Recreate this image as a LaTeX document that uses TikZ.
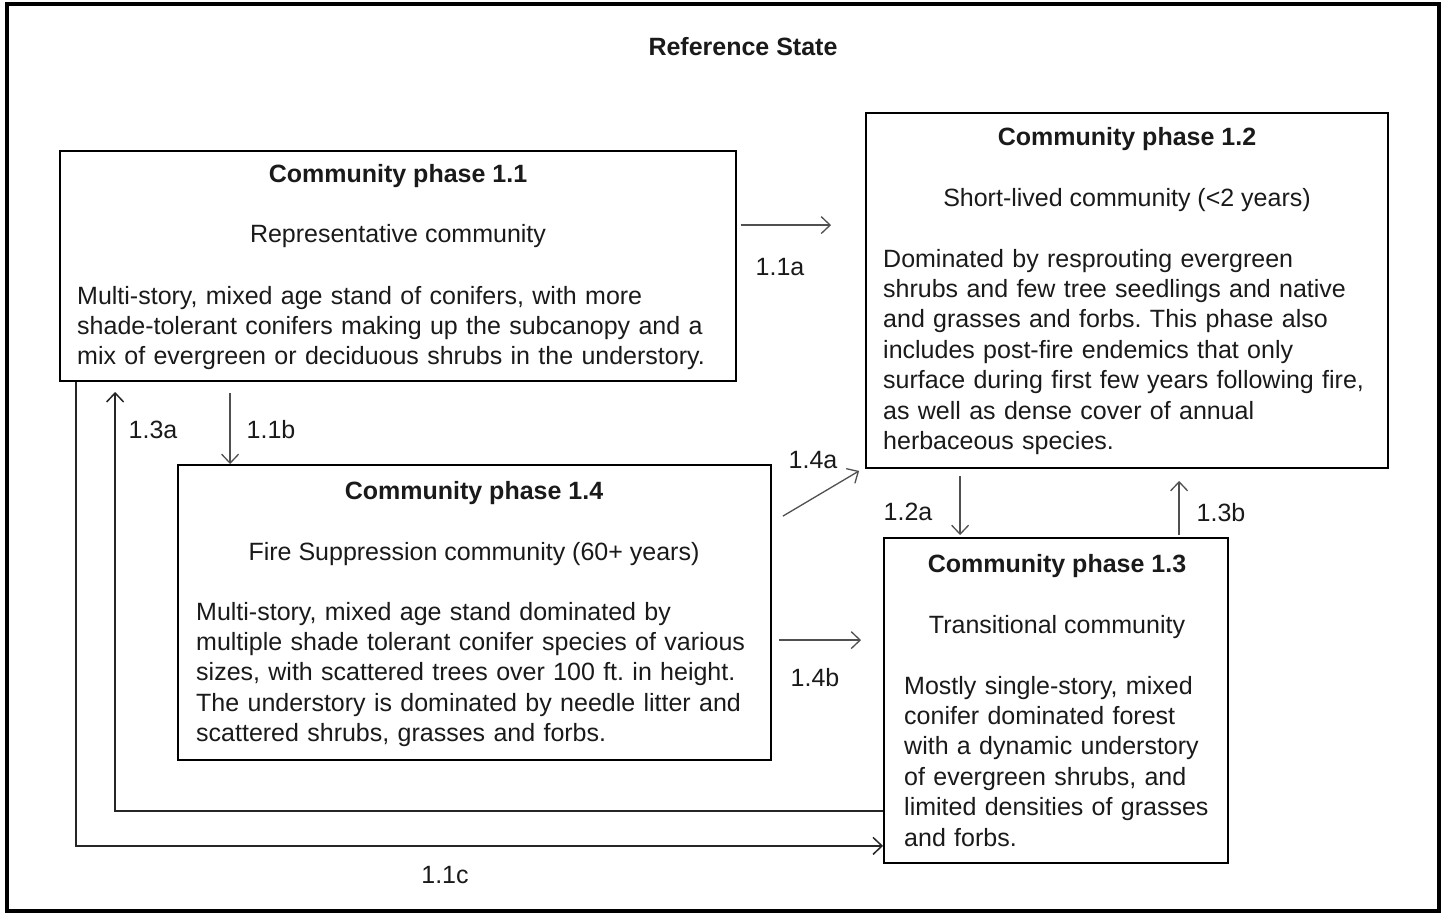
\documentclass[tikz,border=0pt]{standalone}
\usepackage{fontspec}
\setmainfont{Liberation Sans}
\usetikzlibrary{arrows.meta}
\frenchspacing
\definecolor{txt}{HTML}{1A1A1A}
\definecolor{arrc}{HTML}{505050}
\tikzset{
  box/.style={draw=black, line width=1.8pt, inner sep=0pt, fill=none},
  arr/.style={draw=arrc, line width=1.3pt, -{Straight Barb[length=9pt,width=17pt,line width=1.3pt]}},
  longarr/.style={draw=black!85, line width=1.8pt, -{Straight Barb[length=9pt,width=17pt,line width=1.5pt]}},
  ttl/.style={font=\fontsize{25}{30.4}\selectfont\bfseries, text=txt, inner sep=0pt, anchor=base},
  sub/.style={font=\fontsize{25}{30.4}\selectfont, text=txt, inner sep=0pt, anchor=base},
  para/.style={font=\fontsize{25}{30.4}\selectfont, text=txt, inner sep=0pt, anchor=base west, align=left, text width=#1},
  lbl/.style={font=\fontsize{25}{30.4}\selectfont, text=txt, inner sep=0pt, anchor=center},
}
\begin{document}
\begin{tikzpicture}[x=1pt,y=-1pt]
\useasboundingbox (0,0) rectangle (1446,916);
\fill[white] (0,0) rectangle (1446,916);
\draw[line width=3.5pt, black] (7,4) rectangle (1439,911);
\node[ttl, font=\fontsize{25}{30}\selectfont\bfseries] (title) at (743,55) {Reference State};

% boxes
\node[box, minimum width=676pt, minimum height=230pt] (b11) at (398,266) {};
\node[box, minimum width=522pt, minimum height=355pt] (b12) at (1127,290.5) {};
\node[box, minimum width=593pt, minimum height=295pt] (b14) at (474.5,612.5) {};
\node[box, minimum width=344pt, minimum height=325pt] (b13) at (1056,700.5) {};

% box 1.1
\node[ttl] (t11) at (398,182) {Community phase 1.1};
\node[sub] (s11) at (398,242) {Representative community};
\node[para=700pt] (p11) at (77,304) {Multi-story, mixed age stand of conifers, with more\\shade-tolerant conifers making up the subcanopy and a\\mix of evergreen or deciduous shrubs in the understory.};

% box 1.2
\node[ttl] (t12) at (1127,145) {Community phase 1.2};
\node[sub] (s12) at (1127,206) {Short-lived community (<2 years)};
\node[para=540pt] (p12) at (883,267) {Dominated by resprouting evergreen\\shrubs and few tree seedlings and native\\and grasses and forbs. This phase also\\includes post-fire endemics that only\\surface during first few years following fire,\\as well as dense cover of annual\\herbaceous species.};

% box 1.4
\node[ttl] (t14) at (474,499) {Community phase 1.4};
\node[sub] (s14) at (474,560) {Fire Suppression community (60+ years)};
\node[para=620pt] (p14) at (196,620) {Multi-story, mixed age stand dominated by\\multiple shade tolerant conifer species of various\\sizes, with scattered trees over 100 ft. in height.\\The understory is dominated by needle litter and\\scattered shrubs, grasses and forbs.};

% box 1.3
\node[ttl] (t13) at (1057,572) {Community phase 1.3};
\node[sub] (s13) at (1057,633) {Transitional community};
\node[para=360pt] (p13) at (904,694) {Mostly single-story, mixed\\conifer dominated forest\\with a dynamic understory\\of evergreen shrubs, and\\limited densities of grasses\\and forbs.};

% connectors
\draw[arr] ([shift={(4,75)}]b11.north east) -- ([shift={(-34,113)}]b12.north west);
\draw[arr] ([shift={(171,11)}]b11.south west) -- ([shift={(53,0)}]b14.north west);
\draw[longarr] ([shift={(0,-53)}]b13.south west) -| ([shift={(56,10)}]b11.south west);
\draw[longarr] ([shift={(17,0)}]b11.south west) |- ([shift={(0,-18)}]b13.south west);
\draw[arr] ([shift={(11,52)}]b14.north east) -- ([shift={(-6,2)}]b12.south west);
\draw[arr] ([shift={(7,176)}]b14.north east) -- ([shift={(-22,103)}]b13.north west);
\draw[arr] ([shift={(95,7)}]b12.south west) -- ([shift={(77,-2)}]b13.north west);
\draw[arr] ([shift={(296,-2)}]b13.north west) -- ([shift={(314,12)}]b12.south west);

% labels
\node[lbl] (l11a) at (780,267) {1.1a};
\node[lbl] (l11b) at (271,430) {1.1b};
\node[lbl] (l13a) at (153,430) {1.3a};
\node[lbl] (l11c) at (445,875) {1.1c};
\node[lbl] (l14a) at (813,460) {1.4a};
\node[lbl] (l14b) at (815,678) {1.4b};
\node[lbl] (l12a) at (908,512) {1.2a};
\node[lbl] (l13b) at (1221,513) {1.3b};
\end{tikzpicture}
\end{document}
